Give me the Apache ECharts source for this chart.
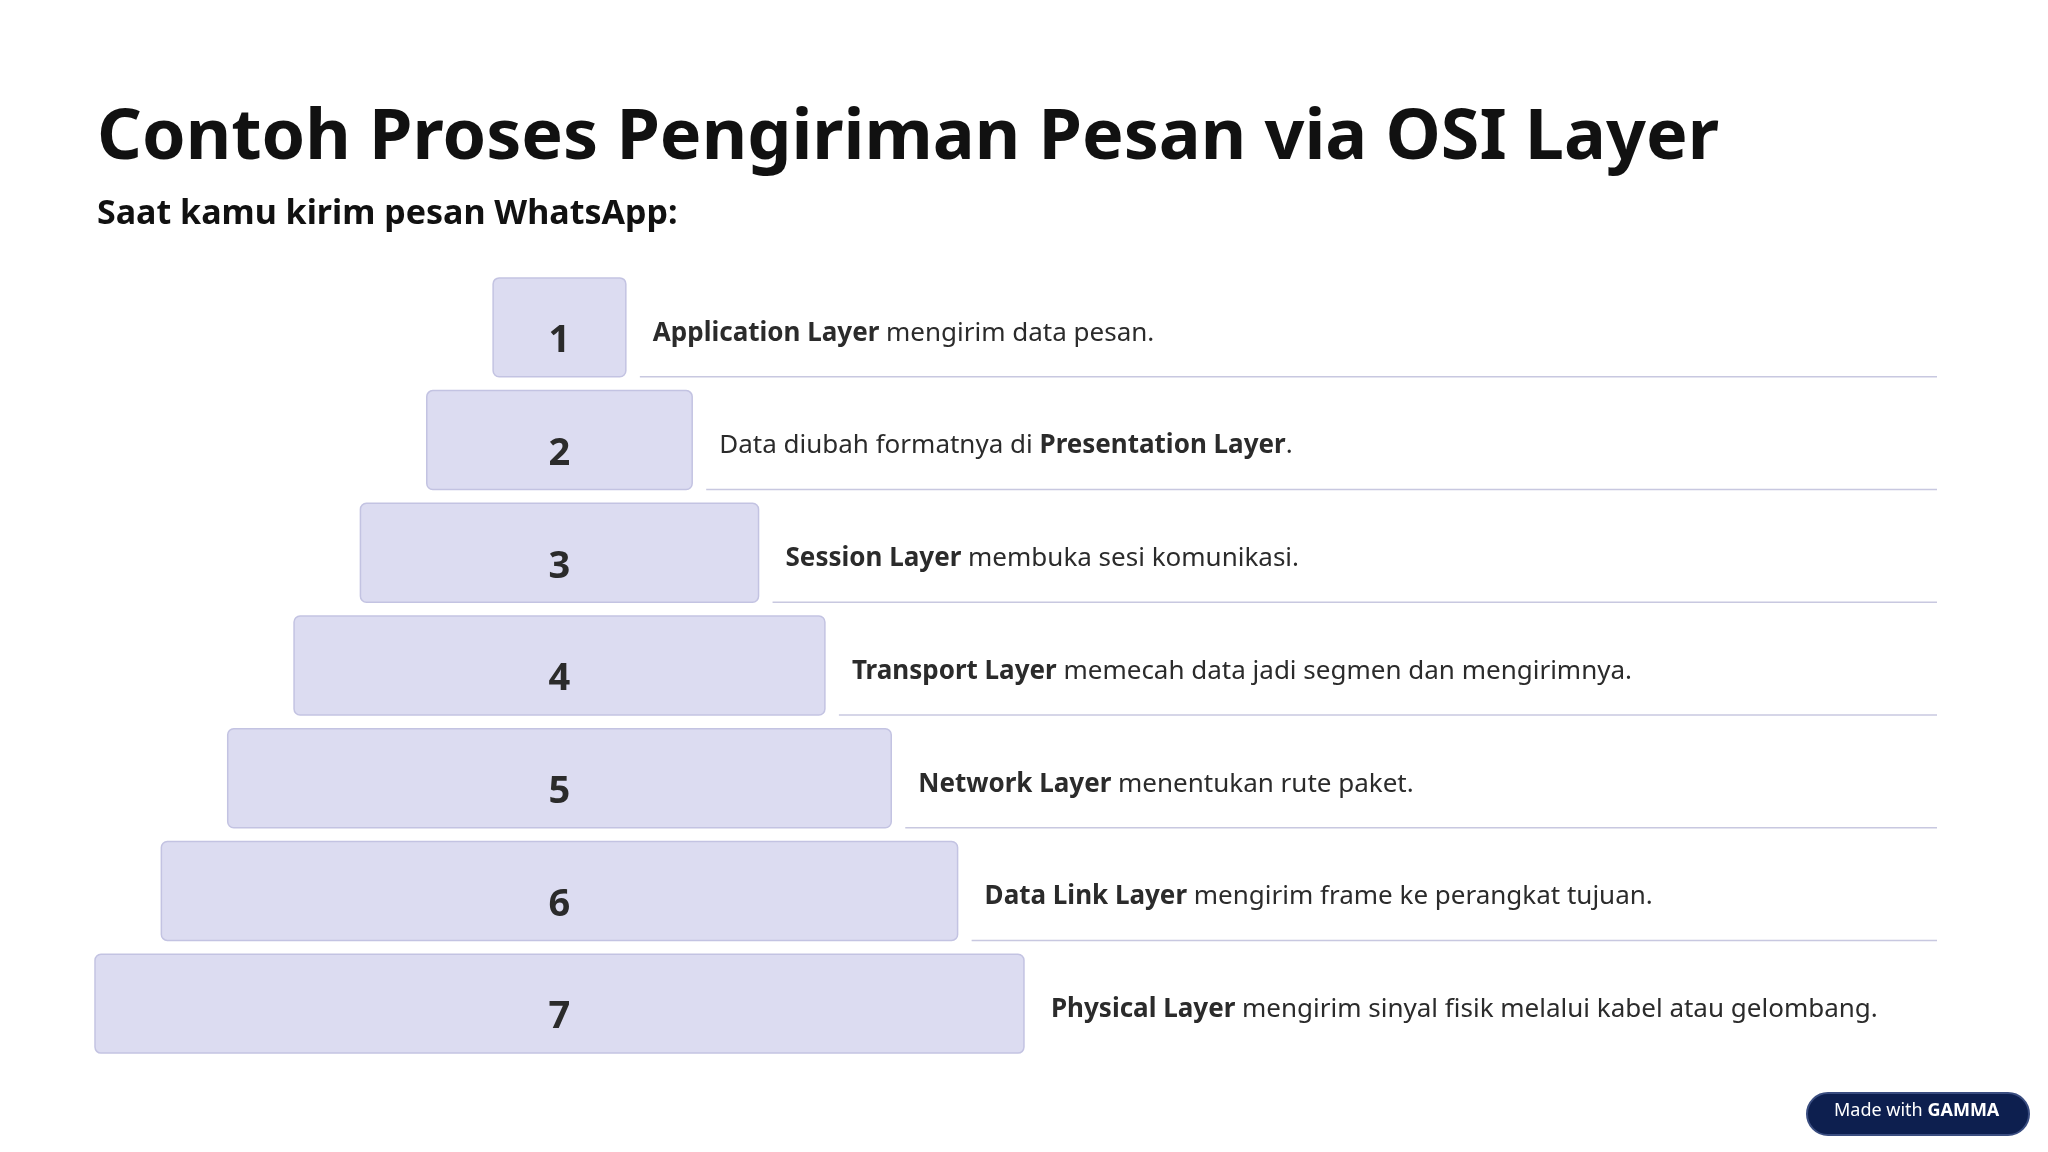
<!DOCTYPE html>
<html><head><meta charset="utf-8">
<script src="https://cdn.jsdelivr.net/npm/echarts@6/dist/echarts.min.js"></script>
<style>html,body{margin:0;padding:0;background:#fff}#c{width:2048px;height:1152px}</style>
</head><body><div id="c"></div>
<script>
// tangga OSI layer
var steps = ['1','2','3','4','5','6','7'];
var widths = [1,2,3,4,5,6,7];
var boldParts = ['Application Layer','Presentation Layer','Session Layer','Transport Layer','Network Layer','Data Link Layer','Physical Layer'];
var beforeText = ['','Data diubah formatnya di ','','','','',''];
var afterText = [' mengirim data pesan.','.',' membuka sesi komunikasi.',' memecah data jadi segmen dan mengirimnya.',' menentukan rute paket.',' mengirim frame ke perangkat tujuan.',' mengirim sinyal fisik melalui kabel atau gelombang.'];
var CENTER = 3.5, LINE_END = 13.88;

var chart = echarts.init(document.getElementById('c'));
var font = 'Noto Sans';
chart.setOption({
  backgroundColor:'#fff',
  grid:{left:95,right:111,top:271,bottom:92},
  xAxis:{type:'value',min:0,max:LINE_END,show:false},
  yAxis:{type:'category',data:steps,inverse:true,show:false},
  graphic:[
    {type:'text',left:97,top:104,style:{text:'Contoh Proses Pengiriman Pesan via OSI Layer',font:'bold 70px "Noto Sans"',fill:'#111'}},
    {type:'text',left:97,top:197,style:{text:'Saat kamu kirim pesan WhatsApp:',font:'bold 34px "Noto Sans"',fill:'#111'}},
    {type:'rect',left:1806,top:1092,shape:{width:222,height:42,r:21},style:{fill:'#0d1f4f',stroke:'#3a4d80',lineWidth:2}},
    {type:'text',left:1834,top:1102,style:{rich:{a:{font:'18px "Noto Sans"',fill:'#fff'},b:{font:'bold 18px "Noto Sans"',fill:'#fff'}},text:'{a|Made with }{b|GAMMA}'}}
  ],
  series:[{
    type:'custom',
    data:widths.map(function(w,i){return [w,i];}),
    renderItem:function(params,api){
      var w=api.value(0), i=api.value(1);
      var band=api.size([0,1])[1], h=band*0.878;
      var c=api.coord([CENTER,i]);
      var l=api.coord([CENTER-w/2,i]), r=api.coord([CENTER+w/2,i]), e=api.coord([LINE_END,i]);
      var top=c[1]-h/2, bot=c[1]+h/2;
      var kids=[
        {type:'rect',shape:{x:l[0],y:top,width:r[0]-l[0],height:h,r:6},style:{fill:'#dcdcf1',stroke:'#c3c3e2',lineWidth:1.5}},
        {type:'text',style:{text:steps[i],x:c[0],y:c[1]+14,align:'center',verticalAlign:'middle',font:'bold 38px "Noto Sans"',fill:'#2b2b2b'}},
        {type:'text',style:{x:r[0]+27,y:c[1]+6,verticalAlign:'middle',
          rich:{n:{font:'26px "Noto Sans"',fill:'#2b2b2b'},b:{font:'bold 26px "Noto Sans"',fill:'#2b2b2b'}},
          text:(beforeText[i]?'{n|'+beforeText[i]+'}':'')+'{b|'+boldParts[i]+'}{n|'+afterText[i]+'}'}}
      ];
      if(i<6) kids.push({type:'line',shape:{x1:r[0]+14,y1:bot,x2:e[0],y2:bot},style:{stroke:'#c8c8e0',lineWidth:1.5}});
      return {type:'group',children:kids};
    }
  }]
});
</script></body></html>
